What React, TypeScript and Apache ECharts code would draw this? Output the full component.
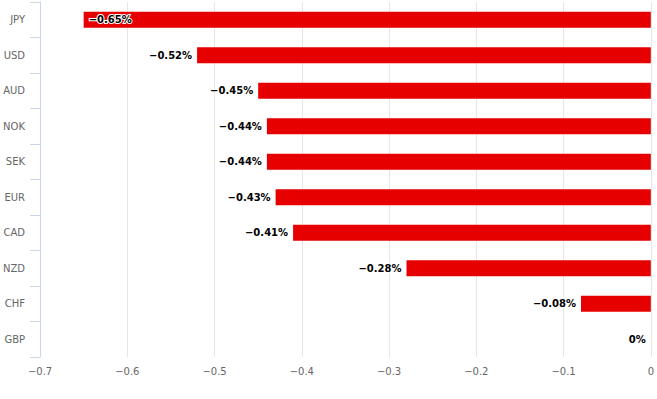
import React, { useEffect, useRef } from "react";
import * as echarts from "echarts";

const currencies = ["JPY", "USD", "AUD", "NOK", "SEK", "EUR", "CAD", "NZD", "CHF", "GBP"];
const values = [-0.65, -0.52, -0.45, -0.44, -0.44, -0.43, -0.41, -0.28, -0.08, 0];
const insideLabelCurrencies = ["JPY"];

const FONT = "'DejaVu Sans', Verdana, sans-serif";

const fmtPct = (v: number) => (v === 0 ? "0%" : (v < 0 ? "\u2212" : "") + Math.abs(v).toFixed(2) + "%");
const fmtTick = (v: number) => {
  if (v === 0) return "0";
  const s = Math.abs(v).toFixed(1);
  return (v < 0 ? "\u2212" : "") + s;
};

export default function App() {
  const ref = useRef<HTMLDivElement>(null);
  useEffect(() => {
    if (!ref.current) return;
    const chart = echarts.init(ref.current, undefined, { renderer: "svg" });
    const data = values.map((v, i) => {
      const inside = insideLabelCurrencies.includes(currencies[i]);
      return {
        value: v,
        label: { position: inside ? "insideLeft" : "left" },
      };
    });
    chart.setOption({
      animation: false,
      backgroundColor: "#ffffff",
      grid: { left: 40, right: 5, top: 2, bottom: 42, containLabel: false },
      xAxis: {
        type: "value",
        min: -0.7,
        max: 0,
        interval: 0.1,
        axisLine: { show: false },
        axisTick: { show: false },
        splitLine: { show: true, lineStyle: { color: "#e6e6e6", width: 1 } },
        axisLabel: {
          color: "#666666",
          fontFamily: FONT,
          fontSize: 10,
          margin: 9,
          formatter: (v: number) => fmtTick(v),
        },
      },
      yAxis: {
        type: "category",
        position: "left",
        data: currencies,
        inverse: true,
        axisLine: { show: true, onZero: false, lineStyle: { color: "#ccd6eb", width: 1 } },
        axisTick: { show: true, length: 10, lineStyle: { color: "#ccd6eb" } },
        splitLine: { show: false },
        axisLabel: {
          color: "#666666",
          fontFamily: FONT,
          fontSize: 10,
          margin: 15,
        },
      },
      series: [
        {
          type: "bar",
          data,
          barWidth: 16,
          itemStyle: { color: "#e60000" },
          label: {
            show: true,
            position: "left",
            distance: 5,
            color: "#000000",
            fontFamily: FONT,
            fontSize: 10,
            fontWeight: "bold",
            textBorderColor: "#ffffff",
            textBorderWidth: 2,
            formatter: (p: any) => fmtPct(p.value),
          },
        },
      ],
    });
    return () => chart.dispose();
  }, []);
  return (
    <div
      ref={ref}
      style={{ position: "fixed", left: 0, top: 0, width: 657, height: 399 }}
    />
  );
}
